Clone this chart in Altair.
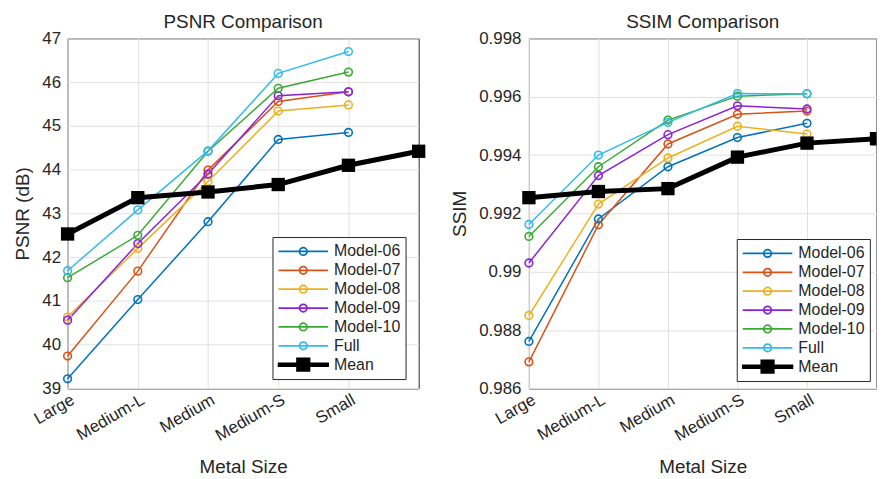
import altair as alt
import pandas as pd

categories = ["Large", "Medium-L", "Medium", "Medium-S", "Small"]
model_names = ["Model-06", "Model-07", "Model-08", "Model-09", "Model-10", "Full"]
mean_name = "Mean"
model_colors = ["#0072BD", "#D95319", "#EDB120", "#8B22D8", "#3AAA35", "#33BBEE"]

psnr_model06 = [39.22, 41.03, 42.81, 44.69, 44.85]
psnr_model07 = [39.74, 41.68, 43.99, 45.56, 45.78]
psnr_model08 = [40.63, 42.20, 43.73, 45.34, 45.48]
psnr_model09 = [40.56, 42.31, 43.90, 45.69, 45.78]
psnr_model10 = [41.53, 42.50, 44.42, 45.86, 46.23]
psnr_full = [41.69, 43.08, 44.43, 46.20, 46.70]
psnr_mean = [42.53, 43.36, 43.49, 43.66, 44.10, 44.42]

ssim_model06 = [0.98761, 0.99181, 0.99360, 0.99460, 0.99509]
ssim_model07 = [0.98691, 0.99161, 0.99438, 0.99540, 0.99551]
ssim_model08 = [0.98850, 0.99232, 0.99390, 0.99499, 0.99472]
ssim_model09 = [0.99030, 0.99330, 0.99470, 0.99569, 0.99558]
ssim_model10 = [0.99121, 0.99360, 0.99520, 0.99602, 0.99610]
ssim_full = [0.99162, 0.99400, 0.99512, 0.99611, 0.99610]
ssim_mean = [0.99254, 0.99275, 0.99285, 0.99393, 0.99441, 0.99456]

psnr_ticks = [39, 40, 41, 42, 43, 44, 45, 46, 47]
ssim_ticks = [0.986, 0.988, 0.990, 0.992, 0.994, 0.996, 0.998]

FONT = "Liberation Sans"
INK = "#262626"


def long_df(names, lists):
    rows = []
    for n, vals in zip(names, lists):
        for i, v in enumerate(vals):
            rows.append({"series": n, "pos": i + 1, "value": v})
    return pd.DataFrame(rows)


n_slots = len(psnr_mean)
label_expr = "[" + ",".join("'%s'" % c for c in categories) + "][datum.value - 1]"

legend_names = model_names + [mean_name]
circle_path = "M-1,0H1M0.15,0A0.15,0.15,0,1,1,-0.15,0A0.15,0.15,0,1,1,0.15,0Z"
mean_path = "M-1,-0.055H1V0.055H-1ZM-0.25,-0.25H0.25V0.25H-0.25Z"
legend_shapes = [circle_path] * len(model_names) + [mean_path]
legend_fills = ["transparent"] * len(model_names) + ["black"]
legend_strokes = model_colors + ["black"]

H = 352.4


def panel(title, y_title, y_domain, y_ticks, y_format, model_lists, mean_vals, lx, ly,
          clip_last, lpad, tpad, width):
    models = long_df(model_names, model_lists)
    mean = long_df([mean_name], [mean_vals])
    x = alt.X(
        "pos:Q",
        scale=alt.Scale(domain=[1, n_slots], nice=False, zero=False),
        axis=alt.Axis(
            values=list(range(1, len(categories) + 1)),
            labelExpr=label_expr,
            title="Metal Size",
            labelAngle=-30,
            labelAlign="right",
            labelBaseline="middle",
            labelOverlap=False,
            labelPadding=10,
            labelOffset=5,
            titlePadding=14.5,
        ),
    )
    y = alt.Y(
        "value:Q",
        scale=alt.Scale(domain=y_domain, nice=False, zero=False),
        axis=alt.Axis(values=y_ticks, format=y_format, title=y_title,
                      labelPadding=lpad, titlePadding=tpad),
    )
    color = alt.Color("series:N", scale=alt.Scale(domain=model_names, range=model_colors), legend=None)
    lines = alt.Chart(models).mark_line(strokeWidth=1.5).encode(x=x, y=y, color=color)
    points = alt.Chart(models).mark_point(
        shape="circle", filled=False, size=60, strokeWidth=1.6, opacity=1
    ).encode(x=x, y=y, color=color)
    mean_line = alt.Chart(mean).mark_line(color="black", strokeWidth=5, clip=clip_last).encode(x=x, y=y)
    sq_a = alt.Chart(mean).transform_filter("datum.pos < %d" % n_slots).mark_square(
        color="black", size=180, opacity=1).encode(x=x, y=y)
    sq_b = alt.Chart(mean).transform_filter("datum.pos >= %d" % n_slots).mark_square(
        color="black", size=180, opacity=1, clip=clip_last).encode(x=x, y=y)

    L = alt.Legend(
        title=None, orient="none", legendX=lx, legendY=ly,
        symbolSize=2500, clipHeight=19, rowPadding=0, labelOffset=5,
        padding=5, strokeColor=INK, fillColor="white", symbolStrokeWidth=1.8,
        labelFont=FONT, labelFontSize=16, labelColor=INK,
    )
    leg = alt.Chart(models).transform_filter("false").mark_point(filled=True, opacity=1).encode(
        x=x, y=y,
        shape=alt.Shape("series:N", scale=alt.Scale(domain=legend_names, range=legend_shapes), legend=L),
        fill=alt.Fill("series:N", scale=alt.Scale(domain=legend_names, range=legend_fills), legend=L),
        stroke=alt.Stroke("series:N", scale=alt.Scale(domain=legend_names, range=legend_strokes), legend=L),
    )
    return alt.layer(lines, points, mean_line, sq_a, sq_b, leg).properties(
        width=width, height=H, title=alt.TitleParams(title, frame="group", offset=-2.5)
    )


left = panel(
    "PSNR Comparison", "PSNR (dB)", [39, 47], psnr_ticks, "d",
    [psnr_model06, psnr_model07, psnr_model08, psnr_model09, psnr_model10, psnr_full],
    psnr_mean, 206.3, 200, False, 7, 9.9, 353.5,
)
right = panel(
    "SSIM Comparison", "SSIM", [0.986, 0.998], ssim_ticks, ".3~f",
    [ssim_model06, ssim_model07, ssim_model08, ssim_model09, ssim_model10, ssim_full],
    ssim_mean, 209.3, 202, True, 8, 9.2, 350,
)

chart = (
    alt.hconcat(left, right, spacing=20.5)
    .resolve_scale(color="independent", shape="independent", fill="independent", stroke="independent")
    .resolve_legend(shape="independent", fill="independent", stroke="independent")
    .properties(padding={"left": 4, "top": 3, "right": 0, "bottom": 0})
    .configure_view(stroke=INK, strokeWidth=1)
    .configure_axis(
        domain=False, gridColor="#e1e1e1", gridWidth=1, tickSize=0,
        labelFont=FONT, labelFontSize=17, labelColor=INK,
        titleFont=FONT, titleFontSize=19, titleFontWeight="normal", titleColor=INK,
    )
    .configure_title(font=FONT, fontSize=19, fontWeight="normal", color=INK)
)

chart.save("out.html", embed_options={"renderer": "svg", "actions": False})
